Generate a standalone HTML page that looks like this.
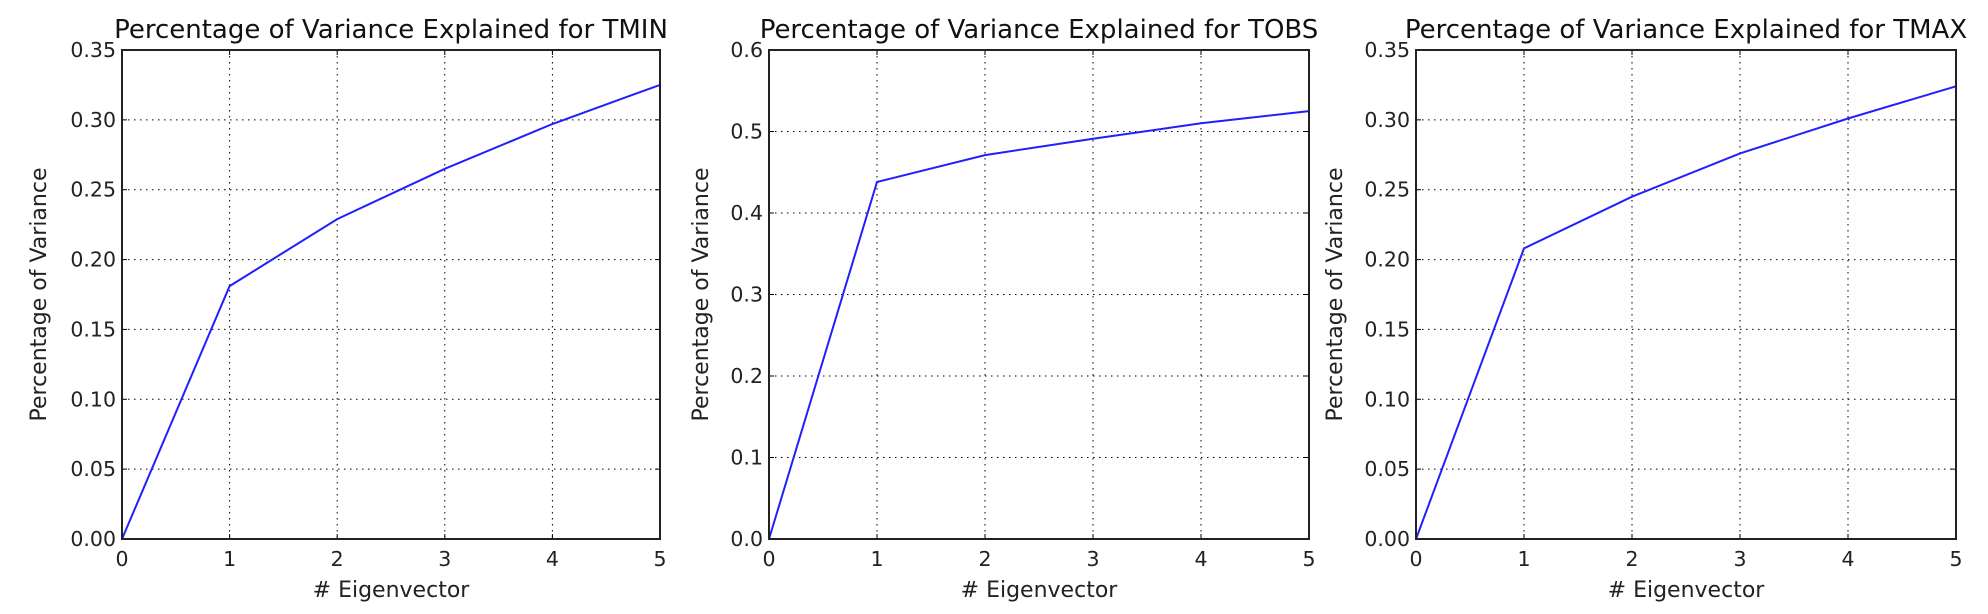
<!DOCTYPE html>
<html><head><meta charset="utf-8">
<style>
html,body{margin:0;padding:0;background:#fff;}
svg{display:block;font-family:"DejaVu Sans","Liberation Sans",sans-serif;}
</style></head>
<body>
<svg id="chart" width="1988" height="614" viewBox="0 0 1988 614" xmlns="http://www.w3.org/2000/svg"></svg>
<script>
const xCategories = [0, 1, 2, 3, 4, 5];
const tminValues = [0, 0.181, 0.229, 0.265, 0.297, 0.325];
const tobsValues = [0, 0.438, 0.471, 0.491, 0.510, 0.525];
const tmaxValues = [0, 0.208, 0.245, 0.276, 0.301, 0.324];
const yTicksSmall = ["0.00","0.05","0.10","0.15","0.20","0.25","0.30","0.35"];
const yTicksTobs = ["0.0","0.1","0.2","0.3","0.4","0.5","0.6"];
const titles = ["Percentage of Variance Explained for TMIN","Percentage of Variance Explained for TOBS","Percentage of Variance Explained for TMAX"];

const chartSvg = document.getElementById('chart');
const NS = 'http://www.w3.org/2000/svg';
function mk(tag, attrs, parent){
  const e = document.createElementNS(NS, tag);
  for (const k in attrs) e.setAttribute(k, attrs[k]);
  parent.appendChild(e);
  return e;
}
const panels = [
  {key:'tmin', left:122, right:660, vals:tminValues, ticks:yTicksSmall, ymax:0.35, ylabX:38},
  {key:'tobs', left:769, right:1309, vals:tobsValues, ticks:yTicksTobs, ymax:0.6, ylabX:700},
  {key:'tmax', left:1416, right:1956, vals:tmaxValues, ticks:yTicksSmall, ymax:0.35, ylabX:1334}
];
const plotTop = 50, plotBottom = 539;
panels.forEach((p, i) => {
  const g = mk('g', {}, chartSvg);
  
  
  const xs = v => p.left + (v - 0) / 5 * (p.right - p.left);
  const ys = v => plotBottom - v / p.ymax * (plotBottom - plotTop);
  xCategories.forEach(c => {
    const l = mk('line', {x1:xs(c), x2:xs(c), y1:plotTop, y2:plotBottom, stroke:'#000', 'stroke-width':1, 'stroke-dasharray':'1.5,4.5'}, g);
    
    
    const t = mk('text', {x:xs(c), y:566, 'text-anchor':'middle', 'font-size':20.5, fill:'#222'}, g);
    t.textContent = c;
    
    
    mk('line', {x1:xs(c), x2:xs(c), y1:plotBottom, y2:plotBottom-5, stroke:'#000', 'stroke-width':1}, g);
    mk('line', {x1:xs(c), x2:xs(c), y1:plotTop, y2:plotTop+5, stroke:'#000', 'stroke-width':1}, g);
  });
  p.ticks.forEach(lbl => {
    const v = parseFloat(lbl);
    const y = ys(v);
    const l = mk('line', {x1:p.left, x2:p.right, y1:y, y2:y, stroke:'#000', 'stroke-width':1, 'stroke-dasharray':'1.5,4.5'}, g);
    
    
    const t = mk('text', {x:p.left-6, y:y+7, 'text-anchor':'end', 'font-size':20.5, fill:'#222'}, g);
    t.textContent = lbl;
    
    
    mk('line', {x1:p.left, x2:p.left+5, y1:y, y2:y, stroke:'#000', 'stroke-width':1}, g);
    mk('line', {x1:p.right, x2:p.right-5, y1:y, y2:y, stroke:'#000', 'stroke-width':1}, g);
  });
  const pts = p.vals.map((v, j) => xs(xCategories[j]).toFixed(1) + ',' + ys(v).toFixed(1)).join(' ');
  const line = mk('polyline', {points:pts, fill:'none', stroke:'#2020ff', 'stroke-width':2}, g);
  
  
  const fr = mk('rect', {x:p.left, y:plotTop, width:p.right-p.left, height:plotBottom-plotTop, fill:'none', stroke:'#222', 'stroke-width':2}, g);
  
  
  const tt = mk('text', {x:(p.left+p.right)/2, y:38, 'text-anchor':'middle', 'font-size':26, fill:'#111'}, g);
  tt.textContent = titles[i];
  
  
  const xl = mk('text', {x:(p.left+p.right)/2, y:597, 'text-anchor':'middle', 'font-size':22, fill:'#222'}, g);
  xl.textContent = '# Eigenvector';
  
  
  const cy = (plotTop+plotBottom)/2;
  const bx = p.ylabX + 8;
  const yl = mk('text', {x:bx, y:cy, 'text-anchor':'middle', 'font-size':22, fill:'#222', transform:'rotate(-90 '+bx+' '+cy+')'}, g);
  yl.textContent = 'Percentage of Variance';
  
  
});
</script>
</body></html>
